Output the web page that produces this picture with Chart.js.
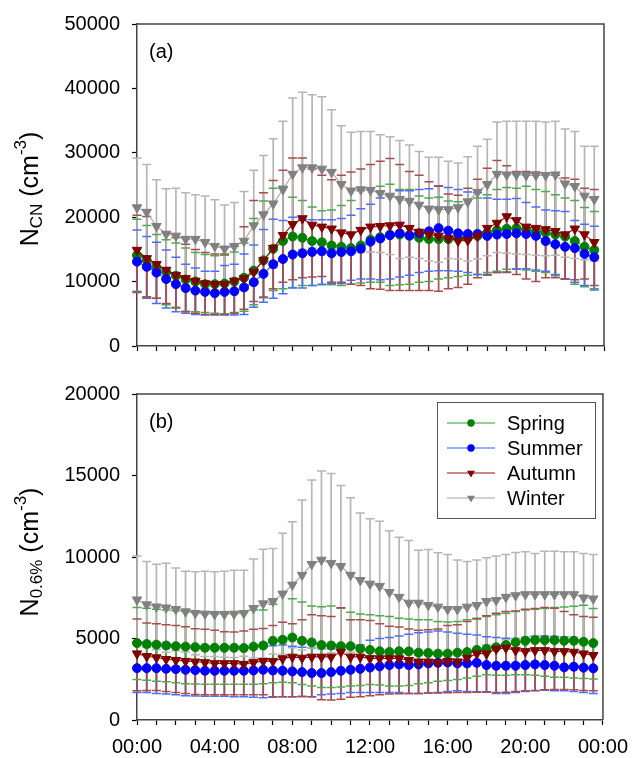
<!DOCTYPE html>
<html>
<head>
<meta charset="utf-8">
<script src="https://cdn.jsdelivr.net/npm/chart.js@4.4.1/dist/chart.umd.min.js"></script>
<style>
  html, body { margin: 0; padding: 0; background: #fff; }
  #wrap { position: relative; width: 638px; height: 758px; }
  .panel { position: absolute; left: 0; width: 638px; }
  #pa { top: 0; height: 370px; }
  #pb { top: 370px; height: 388px; }
</style>
</head>
<body>
<div id="wrap">
  <div class="panel" id="pa"><canvas id="chartA"></canvas></div>
  <div class="panel" id="pb"><canvas id="chartB"></canvas></div>
</div>
<script>
/* ------------------------------------------------------------
   Data: half-hourly diurnal means with upper / lower error caps
------------------------------------------------------------ */

const hours = [0,0.5,1,1.5,2,2.5,3,3.5,4,4.5,5,5.5,6,6.5,7,7.5,8,8.5,9,9.5,10,10.5,11,11.5,
               12,12.5,13,13.5,14,14.5,15,15.5,16,16.5,17,17.5,18,18.5,19,19.5,20,20.5,21,21.5,22,22.5,23,23.5];

// (a) N_CN
const springA   = [14100,13300,12200,11500,10900,10300,10000,9600,9600,9700,10000,10600,11700,13300,15100,16300,17000,16800,16300,16100,15600,15400,15200,15600,
                   16500,16900,17300,17300,17100,16800,16600,16600,16600,16800,16800,17100,17600,18000,18200,18300,18100,17800,17600,17300,17000,16300,15400,14900];
const springAHi = [19700,18700,17300,16500,16000,15200,14500,14200,14000,14100,14600,16000,19800,22500,24500,24800,23100,22600,21600,21000,21100,21800,22600,24100,
                   24500,24800,25100,24300,24300,23300,23000,23100,22500,22400,22800,23000,23500,24300,24600,24500,24800,24300,24000,23500,23000,22600,21500,20900];
const springALo = [8500,7600,7400,6400,6000,5400,5300,5200,5100,5000,5200,5400,6400,7500,8600,8900,9100,9400,9400,9500,9500,9400,9600,9800,
                   9900,9900,9400,9500,9600,9900,10000,10400,10600,10800,11000,11100,11400,11600,11900,11900,11800,11600,11400,10900,10400,9600,9200,8900];

const summerA   = [13100,12300,11400,10400,9600,9000,8600,8400,8200,8400,8500,9100,9900,11200,12700,13500,14200,14400,14600,14700,14400,14600,14700,15100,
                   16200,16700,17200,17500,17200,17500,17800,18300,17900,17500,17400,17400,17100,17300,17400,17500,17400,17100,16300,15800,15400,15200,14300,13800];
const summerAHi = [18000,17000,16100,14900,13800,12700,12100,11600,11600,12500,12700,14300,15700,18100,19700,19500,20000,19700,19600,19600,19600,19800,20300,21300,
                   22000,23000,23300,24100,24100,24300,24400,24900,24600,24300,23900,23800,23000,22800,22800,22900,22300,21600,21100,21000,20900,19500,18900,18600];
const summerALo = [8400,7400,6600,5900,5300,5100,4900,4800,4800,4800,4800,4900,6000,6800,7400,8100,9000,9000,9400,9600,9700,9700,10200,10400,
                   10400,10300,10400,10700,11000,11400,11600,11700,11700,11600,11400,11100,11000,11400,11400,12000,12000,11800,11600,11100,10400,9900,9400,8700];

const autumnA   = [14900,13600,12700,11800,11000,10500,10100,9700,9600,9600,10100,10500,11500,13300,15200,17200,18900,19800,18800,18500,18200,17600,17300,18000,
                   18500,18600,18700,18800,18300,17700,17300,17100,16700,16300,16400,17100,18300,19100,20100,19500,18500,18300,18100,17800,17300,18200,17300,16100];
const autumnAHi = [20300,20100,19000,17500,16800,15800,15000,14500,14300,14300,15500,18500,22600,23800,25700,27300,29200,29200,27500,26500,25800,26500,27000,27500,
                   28200,28700,29100,28200,27100,26500,25500,24800,23600,23400,24500,25900,27600,28800,28000,27100,27100,27000,26800,26500,26100,25900,24500,24300];
const autumnALo = [8300,7600,7400,6600,5900,5300,5100,4900,4900,4900,5100,5700,6900,7600,8900,9900,10300,10600,10700,10800,9900,9900,9600,9400,
                   8900,8800,8600,8600,8600,8600,8600,8500,8900,9100,9600,10600,11100,11400,11500,11100,10400,10000,10600,10600,10400,10300,10400,9400];

const winterA   = [21500,20800,18600,17400,17100,16600,16600,16100,15500,15100,15500,16300,18700,20400,22100,24300,26700,27700,27700,27500,27000,25100,24100,24300,
                   24200,23700,23300,22800,22500,21900,21300,21200,21200,21500,22400,23900,25100,26700,26600,26600,26500,26500,26500,26600,25200,24800,23300,22800];
const winterAHi = [29200,28200,25800,24400,24500,23800,23500,23300,22700,21900,22300,24000,27300,29600,32200,34900,38500,39400,39000,38700,36700,34200,33200,33300,
                   33300,32800,32500,31900,31200,30200,29300,29300,28700,28400,29400,31000,32100,34800,34900,34900,34900,34900,34800,34900,33700,33300,31000,31000];
const winterALo = [13800,13300,11300,10400,9700,9400,9600,8900,8300,8200,8700,8600,10100,11300,12100,13600,14500,15000,15200,15000,15000,14800,14500,14500,
                   14600,14500,14200,13600,13800,13600,13200,13000,13600,13500,13200,13500,14000,14500,14400,14300,14200,14100,14000,14100,13800,13600,13400,13200];

// (b) N_0.6%
const springB   = [4720,4660,4620,4570,4530,4500,4470,4430,4430,4430,4430,4410,4500,4570,4860,4920,5060,4860,4760,4600,4570,4530,4530,4370,
                   4300,4220,4170,4220,4210,4130,4110,4070,4070,4130,4170,4300,4360,4460,4600,4760,4860,4900,4900,4900,4860,4860,4800,4720];
const springBHi = [6900,6860,6790,6750,6710,6650,6610,6590,6550,6550,6550,6590,6750,6750,7100,7840,7440,7240,7000,6950,6990,6850,6610,6510,
                   6450,6400,6350,6250,6190,6150,6150,6050,6010,6050,6150,6250,6350,6450,6550,6650,6750,6790,6840,6900,6940,6980,7040,6840];
const springBLo = [2480,2440,2380,2340,2280,2230,2210,2200,2200,2200,2200,2200,2200,2220,2280,2320,2280,2180,2080,1990,1990,2020,2080,2120,
                   2180,2140,2080,2080,2120,2220,2280,2380,2420,2480,2580,2680,2780,2740,2740,2780,2780,2740,2680,2620,2620,2580,2540,2520];

const summerB   = [3180,3180,3180,3140,3120,3080,3060,3020,3020,3020,3020,3020,3040,3080,3040,3020,2980,2940,2880,2880,2940,3020,3080,3140,
                   3220,3290,3370,3410,3370,3410,3470,3510,3530,3470,3470,3510,3370,3330,3330,3330,3370,3410,3370,3330,3230,3270,3210,3170];
const summerBHi = [4800,4760,4720,4660,4620,4600,4560,4560,4530,4530,4530,4530,4460,4530,4560,4600,4530,4470,4410,4370,4370,4410,4470,4600,
                   4900,5000,5060,5160,5260,5360,5400,5460,5400,5320,5260,5220,5100,5060,5020,5000,5060,5120,5160,5120,5100,4960,4860,4760];
const summerBLo = [1690,1690,1630,1590,1550,1490,1470,1450,1450,1450,1430,1430,1390,1370,1390,1430,1430,1450,1430,1550,1590,1630,1690,1690,
                   1690,1690,1690,1690,1630,1630,1650,1690,1750,1790,1750,1730,1730,1630,1630,1690,1750,1790,1830,1790,1790,1750,1690,1630];

const autumnB   = [4070,3910,3830,3730,3670,3610,3570,3530,3470,3470,3470,3430,3530,3610,3610,3770,3870,3810,3870,3870,3870,4170,3870,3870,
                   3780,3770,3770,3770,3670,3570,3570,3530,3610,3570,3810,4070,4070,4360,4420,4270,4210,4270,4270,4210,4210,4170,4070,3970];
const autumnBHi = [6190,5950,5910,5850,5790,5720,5600,5560,5500,5420,5400,5460,5560,5620,5790,5990,5910,6150,6450,6390,6350,6890,6150,6150,
                   6100,5910,5750,5710,5590,5510,5530,5590,5790,5850,6050,6190,6390,6550,6650,6690,6790,6840,6900,6850,6650,6450,6350,6310];
const autumnBLo = [1790,1810,1810,1750,1690,1630,1570,1550,1550,1550,1550,1550,1550,1550,1430,1430,1430,1430,1430,1250,1230,1270,1390,1430,
                   1490,1550,1590,1610,1630,1630,1650,1650,1670,1690,1690,1710,1710,1690,1710,1750,1790,1810,1850,1870,1870,1850,1810,1790];

const winterB   = [7380,7080,6950,6890,6790,6650,6550,6510,6490,6490,6510,6550,6850,7140,7280,7740,8290,8890,9560,9820,9620,9430,8890,8570,
                   8350,8210,7840,7540,7180,7180,7040,6940,6790,6790,6940,7040,7280,7340,7540,7640,7700,7700,7700,7700,7700,7700,7500,7440];
const winterBHi = [10060,9720,9560,9620,9330,9130,9090,9130,9090,9130,9190,9190,9880,10480,10520,11450,12160,13490,14720,15280,15120,14390,13630,12700,
                   12350,12200,11610,11210,11010,10420,10460,10260,10160,9820,9720,9820,9960,10060,10160,10280,10320,10220,10360,10360,10320,10320,10220,10160];
const winterBLo = [4700,4450,4330,4150,4250,4170,4010,3890,3890,3850,3830,3910,3810,3810,4050,4030,4430,4290,4410,4370,4130,4470,4150,4450,
                   4370,4270,4070,3870,3600,3950,3630,3630,3410,3750,4170,4270,4600,4620,4920,5000,5080,5180,5040,5040,5080,5080,4780,4720];

const seasons = ["Spring", "Summer", "Autumn", "Winter"];

/* ------------------------------------------------------------
   Styles
------------------------------------------------------------ */

const FONT = "'Liberation Sans', Arial, sans-serif";

const COL = {
    Spring: { mark: "#008000", line: "#2f9f2f", err: "#4caa4c", shape: "circle" },
    Summer: { mark: "#0000ff", line: "#3a5cff", err: "#4d6dff", shape: "circle" },
    Autumn: { mark: "#800000", line: "#8b1010", err: "#a84c4c", shape: "triangle" },
    Winter: { mark: "#808080", line: "#a6a6a6", err: "#b6b6b6", shape: "triangle" }
};

/* ------------------------------------------------------------
   Helpers
------------------------------------------------------------ */

function drawMarker(ctx, shape, x, y, r, color) {
    ctx.fillStyle = color;
    ctx.beginPath();
    if (shape === "circle") {
        ctx.arc(x, y, r, 0, Math.PI * 2);
    } else {
        ctx.moveTo(x - r * 0.866, y - r * 0.5);
        ctx.lineTo(x + r * 0.866, y - r * 0.5);
        ctx.lineTo(x, y + r);
        ctx.closePath();
    }
    ctx.fill();
}

// rotated axis title with sub/superscripts
function drawRichTitle(ctx, cx, cy, parts) {
    ctx.save();
    ctx.translate(cx, cy);
    ctx.rotate(-Math.PI / 2);
    ctx.textBaseline = "alphabetic";
    ctx.textAlign = "left";
    ctx.fillStyle = "#000";
    let total = 0;
    parts.forEach(p => {
        ctx.font = p.size + "px " + FONT;
        p.w = ctx.measureText(p.t).width;
        total += p.w;
    });
    let x = -total / 2;
    parts.forEach(p => {
        ctx.font = p.size + "px " + FONT;
        ctx.fillText(p.t, x, p.dy);
        x += p.w;
    });
    ctx.restore();
}

function drawLegend(ctx, series, L) {
    ctx.fillStyle = "#fff";
    ctx.fillRect(L.x, L.y, L.w, L.h);
    ctx.strokeStyle = "#555";
    ctx.lineWidth = 1;
    ctx.strokeRect(L.x + 0.5, L.y + 0.5, L.w, L.h);
    series.forEach((s, k) => {
        const c = COL[s.name];
        const y = L.y + 21 + k * 25;
        ctx.strokeStyle = c.line;
        ctx.lineWidth = 1.2;
        ctx.beginPath();
        ctx.moveTo(L.x + 10, y);
        ctx.lineTo(L.x + 58, y);
        ctx.stroke();
        drawMarker(ctx, c.shape, L.x + 34, y, c.shape === "circle" ? 3.7 : 4.6, c.mark);
        ctx.fillStyle = "#000";
        ctx.font = "20px " + FONT;
        ctx.textBaseline = "middle";
        ctx.textAlign = "left";
        ctx.fillText(s.name, L.x + 70, y + 1);
    });
}

/* ------------------------------------------------------------
   Panel builder
------------------------------------------------------------ */

function makePanel(canvasId, cfg) {
    const series = cfg.series;

    const errPlugin = {
        id: "errbars",
        beforeDatasetsDraw(chart) {
            const ctx = chart.ctx, xs = chart.scales.x, ys = chart.scales.y;
            ctx.save();
            const vline = (s, ends) => {
                ctx.strokeStyle = COL[s.name].err;
                ctx.beginPath();
                hours.forEach((h, i) => {
                    const x = xs.getPixelForValue(h);
                    ctx.moveTo(x, ys.getPixelForValue(s.mean[i]));
                    ctx.lineTo(x, ys.getPixelForValue(ends[i]));
                });
                ctx.stroke();
            };
            // winter stems end up on top going up, autumn stems on top going down
            ctx.lineWidth = 1.7;
            [0, 1, 2, 3].forEach(k => vline(series[k], series[k].hi));
            [0, 1, 3, 2].forEach(k => vline(series[k], series[k].lo));
            ctx.lineWidth = 1.5;
            series.forEach(s => {
                ctx.strokeStyle = COL[s.name].err;
                ctx.beginPath();
                hours.forEach((h, i) => {
                    const x = xs.getPixelForValue(h);
                    [s.hi[i], s.lo[i]].forEach(v => {
                        const y = ys.getPixelForValue(v);
                        ctx.moveTo(x - 4.5, y);
                        ctx.lineTo(x + 4.5, y);
                    });
                });
                ctx.stroke();
            });
            ctx.restore();
        }
    };

    const decoPlugin = {
        id: "deco",
        afterDraw(chart) {
            const ctx = chart.ctx, a = chart.chartArea;
            ctx.save();
            ctx.strokeStyle = "#444";
            ctx.lineWidth = 1.5;
            ctx.beginPath();
            ctx.moveTo(a.left, a.top);
            ctx.lineTo(a.right, a.top);
            ctx.lineTo(a.right, a.bottom);
            ctx.stroke();
            ctx.fillStyle = "#000";
            ctx.font = "20px " + FONT;
            ctx.textBaseline = "alphabetic";
            ctx.textAlign = "left";
            ctx.fillText(cfg.tag, a.left + 12, a.top + 34);
            drawRichTitle(ctx, 38, cfg.titleY, cfg.title);
            if (cfg.legend) drawLegend(ctx, series, cfg.legend);
            ctx.restore();
        }
    };

    return new Chart(document.getElementById(canvasId), {
        type: "line",
        data: {
            datasets: series.map((s, k) => {
                const c = COL[s.name];
                return {
                    label: s.name,
                    data: hours.map((h, i) => ({ x: h, y: s.mean[i] })),
                    borderColor: c.line,
                    borderWidth: 1.1,
                    pointStyle: c.shape,
                    pointRotation: c.shape === "triangle" ? 180 : 0,
                    pointRadius: c.shape === "triangle" ? 5.5 : 4.5,
                    pointBackgroundColor: c.mark,
                    pointBorderColor: c.mark,
                    pointBorderWidth: 1,
                    tension: 0,
                    clip: false,
                    order: 4 - k
                };
            })
        },
        options: {
            responsive: true,
            maintainAspectRatio: false,
            animation: false,
            layout: { padding: { top: cfg.padTop, right: 34, left: 0, bottom: 0 } },
            plugins: { legend: { display: false }, tooltip: { enabled: false } },
            scales: {
                x: {
                    type: "linear",
                    min: 0,
                    max: 24,
                    afterFit: s => { s.height = cfg.xHeight; },
                    ticks: {
                        stepSize: 1,
                        autoSkip: false,
                        maxRotation: 0,
                        padding: 10,
                        color: "#000",
                        font: { family: FONT, size: 20 },
                        callback: v => {
                            if (!cfg.xLabels || v % 4 !== 0) return "";
                            return String(v % 24).padStart(2, "0") + ":00";
                        }
                    },
                    grid: { drawOnChartArea: false, drawTicks: true, tickLength: 5, tickColor: "#000", tickWidth: 1.2 },
                    border: { display: true, color: "#444", width: 1.5 }
                },
                y: {
                    min: 0,
                    max: cfg.yMax,
                    afterFit: s => { s.width = 137; },
                    ticks: {
                        stepSize: cfg.yStep,
                        padding: 12,
                        color: "#000",
                        font: { family: FONT, size: 20 },
                        callback: v => String(v)
                    },
                    grid: { drawOnChartArea: false, drawTicks: true, tickLength: 5, tickColor: "#000", tickWidth: 1.2 },
                    border: { display: true, color: "#444", width: 1.5 }
                }
            }
        },
        plugins: [errPlugin, decoPlugin]
    });
}

/* ------------------------------------------------------------
   Build both panels
------------------------------------------------------------ */

makePanel("chartA", {
    series: [
        { name: seasons[0], mean: springA, hi: springAHi, lo: springALo },
        { name: seasons[1], mean: summerA, hi: summerAHi, lo: summerALo },
        { name: seasons[2], mean: autumnA, hi: autumnAHi, lo: autumnALo },
        { name: seasons[3], mean: winterA, hi: winterAHi, lo: winterALo }
    ],
    yMax: 50000, yStep: 10000,
    padTop: 22, xHeight: 12, xLabels: false,
    tag: "(a)",
    titleY: 189,
    title: [
        { t: "N", size: 25, dy: 0 },
        { t: "CN", size: 17, dy: 4 },
        { t: " (cm", size: 25, dy: 0 },
        { t: "-3", size: 17, dy: -12 },
        { t: ")", size: 25, dy: 0 }
    ]
});

makePanel("chartB", {
    series: [
        { name: seasons[0], mean: springB, hi: springBHi, lo: springBLo },
        { name: seasons[1], mean: summerB, hi: summerBHi, lo: summerBLo },
        { name: seasons[2], mean: autumnB, hi: autumnBHi, lo: autumnBLo },
        { name: seasons[3], mean: winterB, hi: winterBHi, lo: winterBLo }
    ],
    yMax: 20000, yStep: 5000,
    padTop: 14, xHeight: 38, xLabels: true,
    tag: "(b)",
    titleY: 182,
    title: [
        { t: "N", size: 25, dy: 0 },
        { t: "0.6%", size: 17, dy: 4 },
        { t: " (cm", size: 25, dy: 0 },
        { t: "-3", size: 17, dy: -12 },
        { t: ")", size: 25, dy: 0 }
    ],
    legend: { x: 437, y: 32, w: 158, h: 116 }
});
</script>
</body>
</html>
